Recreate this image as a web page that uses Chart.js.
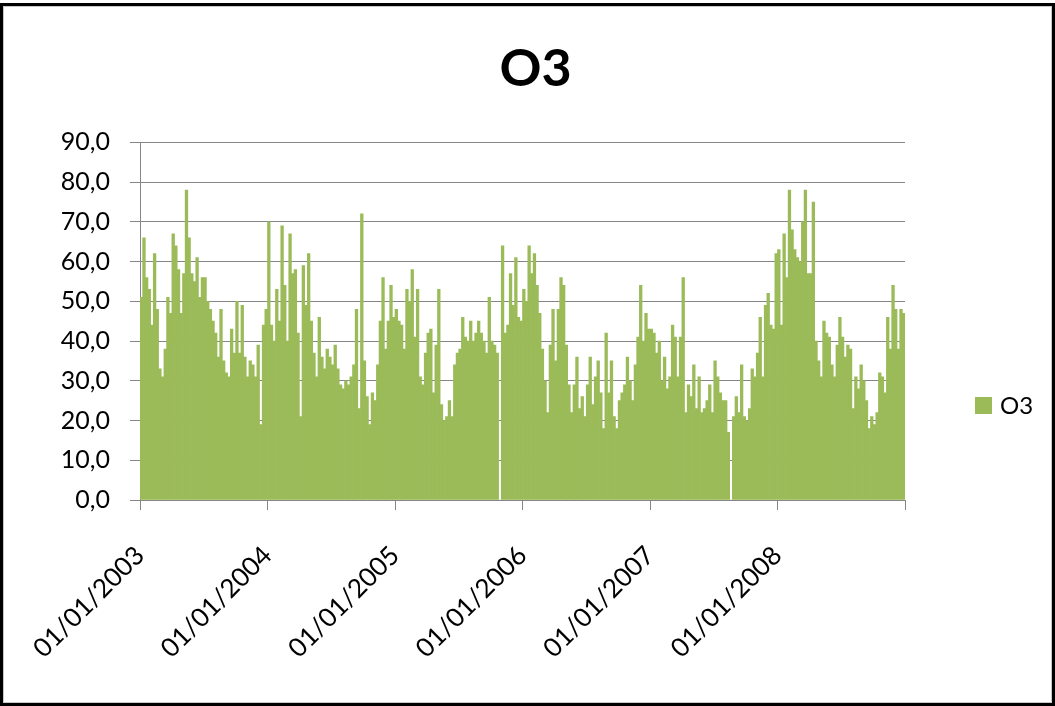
<!DOCTYPE html>
<html>
<head>
<meta charset="utf-8">
<script src="https://cdn.jsdelivr.net/npm/chart.js@4.4.1/dist/chart.umd.min.js"></script>
<style>
    html, body { margin: 0; padding: 0; background: #fff; }
    #frame { position: absolute; left: 0; top: 3px; width: 1055px; height: 703px; box-sizing: border-box;
             border: 3px solid #000; box-shadow: inset 0 0 0 1px #c8c8c8; }
    #frame canvas { position: absolute; left: 0; top: 0; }
</style>
</head>
<body>
<div id="frame"><canvas id="O3Stats" width="1049" height="697"></canvas></div>
<script>

//
// Data (O3, ~weekly readings, 48 per year)
var years = ['2003', '2004', '2005', '2006', '2007', '2008'];
var tick_labels = ['01/01/2003', '01/01/2004', '01/01/2005', '01/01/2006', '01/01/2007', '01/01/2008'];
var o3_2003 = [51,66,56,53,44,62,48,33,31,38,51,47,67,64,58,47,57,78,66,57,55,61,51,56,56,50,48,45,42,36,48,35,32,31,43,37,50,37,49,36,31,35,34,31,39,19,44,48];
var o3_2004 = [70,44,40,53,45,69,54,40,67,57,58,42,21,59,49,62,45,37,31,46,36,33,38,36,34,39,33,29,28,30,29,31,34,48,23,72,35,26,19,27,25,34,45,56,38,45,54,46];
var o3_2005 = [48,45,44,38,53,50,58,41,53,31,29,37,42,43,27,39,53,24,20,21,25,21,34,37,38,46,41,40,45,40,42,45,42,40,37,51,40,39,37,0,64,42,44,57,49,61,46,45];
var o3_2006 = [53,50,64,57,62,54,47,38,30,22,39,48,35,48,56,54,39,29,22,29,36,23,26,21,29,36,24,31,35,27,18,42,27,35,21,18,25,27,29,36,30,25,34,41,54,40,47,43];
var o3_2007 = [43,42,37,40,30,36,28,31,44,41,31,41,56,22,29,26,34,23,31,22,23,25,29,22,35,31,27,25,25,17,0,21,26,22,34,21,20,23,33,31,37,46,31,49,52,44,43,62];
var o3_2008 = [63,44,67,56,78,68,63,61,60,70,78,57,57,75,40,35,31,45,42,41,34,31,39,46,41,36,39,38,23,31,28,34,30,25,18,21,19,22,32,31,27,46,38,54,48,38,48,47];
var per_year = 48;

//
// Build points
var o3_all = [].concat(o3_2003, o3_2004, o3_2005, o3_2006, o3_2007, o3_2008);
var o3_points = o3_all.map(function(v, i) { return {x: i + 0.5, y: v}; });

var font_family = 'Lato, "Open Sans", sans-serif';
var grid_color = '#868686';
var bar_color = '#9BBB59';

//
// Legend drawn at the right, like Excel
var side_legend = {
    id: 'sideLegend',
    afterDraw: function(chart) {
        var ctx = chart.ctx;
        var ds = chart.data.datasets[0];
        ctx.save();
        ctx.fillStyle = ds.backgroundColor;
        ctx.fillRect(972, 391, 17, 17);
        ctx.fillStyle = '#000';
        ctx.font = '24px ' + font_family;
        ctx.textBaseline = 'middle';
        ctx.textAlign = 'left';
        ctx.fillText(ds.label, 997, 400);
        ctx.restore();
    }
};

var o3 = document.getElementById('O3Stats').getContext('2d');
new Chart(o3, {
    type: 'bar',
    data: {
        datasets: [{
            label: 'O3',
            data: o3_points,
            backgroundColor: bar_color,
            borderWidth: 0,
            barPercentage: 1.0,
            categoryPercentage: 1.0
        }]
    },
    options: {
        responsive: false,
        animation: false,
        layout: { padding: { left: 16, right: 0, top: 0, bottom: 43 } },
        plugins: {
            legend: { display: false },
            tooltip: { enabled: false },
            title: {
                display: true,
                text: 'O3',
                color: '#000',
                font: { family: font_family, size: 52, weight: 'bold' },
                padding: { top: 32, bottom: 42 }
            }
        },
        scales: {
            x: {
                type: 'linear',
                min: 0,
                max: years.length * per_year,
                offset: false,
                afterFit: function(scale) { scale.height = 160; },
                afterBuildTicks: function(scale) {
                    var t = [];
                    for (var k = 0; k <= years.length; k++) t.push({value: k * per_year});
                    scale.ticks = t;
                },
                ticks: {
                    autoSkip: false,
                    minRotation: 45,
                    maxRotation: 45,
                    padding: 30,
                    color: '#000',
                    font: { family: font_family, size: 26 },
                    callback: function(v) {
                        var k = Math.round(v / per_year);
                        return k < tick_labels.length ? tick_labels[k] : '';
                    }
                },
                grid: { offset: false, drawOnChartArea: false, drawTicks: true, tickLength: 10, color: grid_color },
                border: { color: grid_color }
            },
            y: {
                min: 0,
                max: 90,
                afterFit: function(scale) { scale.width = 121; },
                ticks: {
                    stepSize: 10,
                    padding: 20,
                    color: '#000',
                    font: { family: font_family, size: 25 },
                    callback: function(v) { return v.toFixed(1).replace('.', ','); }
                },
                grid: { color: grid_color, tickLength: 10 },
                border: { color: grid_color }
            },
            // empty right-hand space that holds the legend
            legendSpace: {
                type: 'linear',
                position: 'right',
                min: 0,
                max: 1,
                afterFit: function(scale) { scale.width = 147; },
                ticks: { display: false },
                grid: { display: false, drawOnChartArea: false },
                border: { display: false }
            }
        }
    },
    plugins: [side_legend]
});
</script>
</body>
</html>
